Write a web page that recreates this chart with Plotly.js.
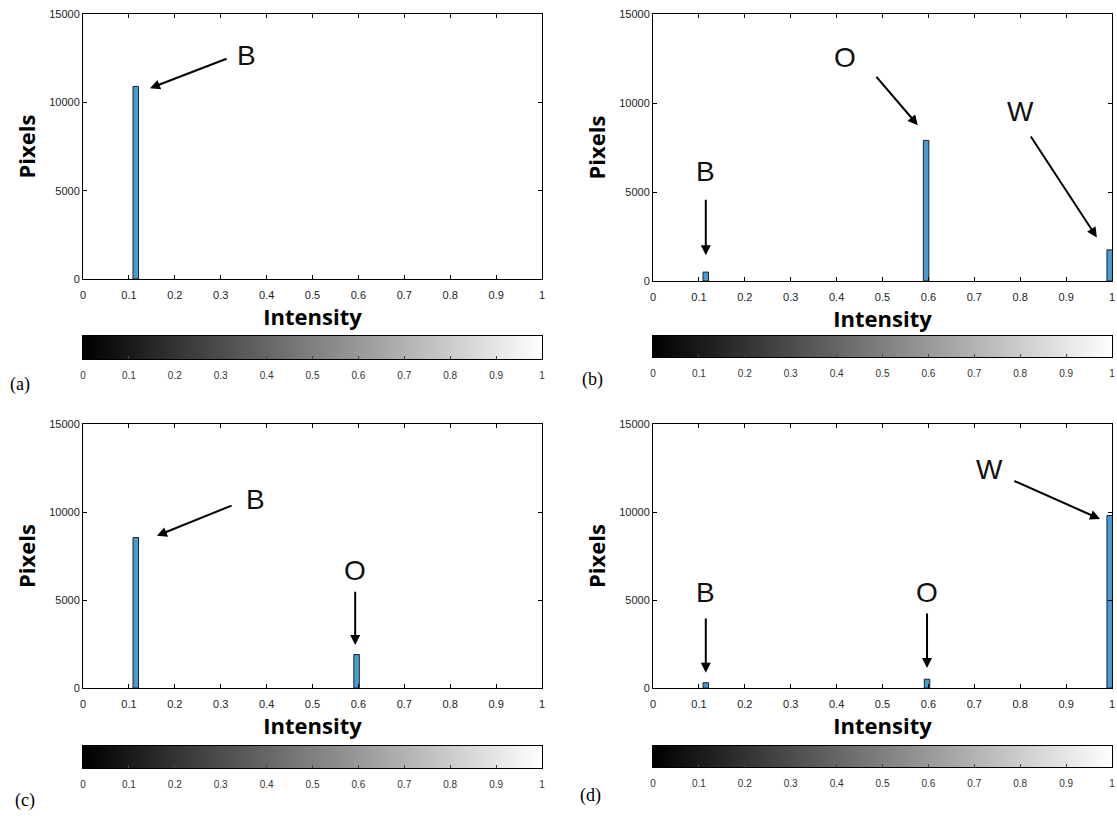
<!DOCTYPE html>
<html>
<head>
<meta charset="utf-8">
<script src="https://cdn.plot.ly/plotly-3.0.1.min.js"></script>
<style>html,body{margin:0;padding:0;background:#fff;}#chart{width:1117px;height:821px;}</style>
</head>
<body>
<div id="chart"></div>
<script>
// ---- data ----
const intensityA = [0.115];
const countsA = [10900];
const intensityB = [0.115, 0.595, 0.995];
const countsB = [500, 7900, 1750];
const intensityC = [0.115, 0.596];
const countsC = [8550, 1900];
const intensityD = [0.115, 0.597, 0.995];
const countsD = [300, 500, 9800];

const xTickVals = [0, 0.1, 0.2, 0.3, 0.4, 0.5, 0.6, 0.7, 0.8, 0.9, 1];
const xTickText = ['0', '0.1', '0.2', '0.3', '0.4', '0.5', '0.6', '0.7', '0.8', '0.9', '1'];
const yTickVals = [0, 5000, 10000, 15000];
const yTickText = ['0', '5000', '10000', '15000'];
const grayLevels = [0, 1];
const panelLabels = ['(a)', '(b)', '(c)', '(d)'];
const xTitle = 'Intensity';
const yTitle = 'Pixels';

// annotation labels: [panel, text, textX, textY, tailX, tailY, headX, headY]
const arrowLabels = [
  [0, 'B', 0.357, 12650, 0.316, 12500, 0.146, 10800],
  [1, 'B', 0.115, 6150, 0.115, 4650, 0.115, 1450],
  [1, 'O', 0.418, 12550, 0.484, 11550, 0.577, 8750],
  [1, 'W', 0.800, 9500, 0.821, 8200, 0.967, 2450],
  [2, 'B', 0.375, 10700, 0.327, 10400, 0.161, 8650],
  [2, 'O', 0.593, 6700, 0.593, 5550, 0.593, 2450],
  [3, 'B', 0.115, 5450, 0.115, 4030, 0.115, 860],
  [3, 'O', 0.597, 5450, 0.597, 4320, 0.597, 1140],
  [3, 'W', 0.734, 12400, 0.784, 11800, 0.974, 9600]
];

// ---- layout geometry ----
const W = 1117, H = 821;
const px = v => v / W;
const py = v => 1 - v / H;
const panels = [
  {x0: 83, x1: 542, y0: 14, y1: 279, cb0: 336, cb1: 359, lab: [20, 384]},
  {x0: 653, x1: 1112, y0: 14, y1: 281, cb0: 336, cb1: 357, lab: [592, 380]},
  {x0: 83, x1: 542, y0: 424, y1: 688, cb0: 746, cb1: 768, lab: [25, 800]},
  {x0: 653, x1: 1112, y0: 424, y1: 688, cb0: 746, cb1: 767, lab: [590, 795]}
];
const series = [[intensityA, countsA], [intensityB, countsB], [intensityC, countsC], [intensityD, countsD]];

const tickFont = {family: 'Liberation Sans, Arial, sans-serif', size: 11, color: '#222'};
const yTickFont = {family: 'Liberation Sans, Arial, sans-serif', size: 11, color: '#222'};
const cbTickFont = {family: 'Liberation Sans, Arial, sans-serif', size: 10, color: '#333'};
const titleFont = {family: 'Open Sans, sans-serif', size: 22, color: '#000', weight: 'bold'};

const data = [];
const layout = {
  width: W, height: H,
  margin: {l: 0, r: 0, t: 0, b: 0},
  paper_bgcolor: '#fff', plot_bgcolor: '#fff',
  showlegend: false,
  annotations: [],
  bargap: 0
};

panels.forEach((p, i) => {
  const n = i + 1;
  const xa = 'xaxis' + (n === 1 ? '' : n);
  const ya = 'yaxis' + (n === 1 ? '' : n);
  const xr = 'x' + (n === 1 ? '' : n);
  const yr = 'y' + (n === 1 ? '' : n);
  data.push({
    type: 'bar', x: series[i][0], y: series[i][1], width: 0.012,
    xaxis: xr, yaxis: yr,
    marker: {color: '#4a9bd1', line: {color: '#1a2530', width: 1}},
    hoverinfo: 'x+y'
  });
  layout[xa] = {
    domain: [px(p.x0), px(p.x1)], anchor: yr, range: [0, 1],
    tickvals: xTickVals, ticktext: xTickText, ticks: 'inside', ticklen: 4,
    tickcolor: '#000', showline: true, linecolor: '#000', linewidth: 1, mirror: 'ticks',
    showgrid: false, zeroline: false, tickfont: tickFont, ticklabelstandoff: 6,
    title: {text: xTitle, font: titleFont, standoff: 6}
  };
  layout[ya] = {
    domain: [py(p.y1), py(p.y0)], anchor: xr, range: [0, 15000],
    tickvals: yTickVals, ticktext: yTickText, ticks: 'inside', ticklen: 4,
    tickcolor: '#000', showline: true, linecolor: '#000', linewidth: 1, mirror: 'ticks',
    showgrid: false, zeroline: false, tickfont: yTickFont,
    title: {text: yTitle, font: titleFont, standoff: 7}
  };

  // gradient colour bar below each histogram
  const m = n + 4;
  data.push({
    type: 'heatmap', x: grayLevels, y: [0], z: [grayLevels], zsmooth: 'best',
    xaxis: 'x' + m, yaxis: 'y' + m, showscale: false,
    colorscale: [[0, '#000'], [1, '#fff']], zmin: 0, zmax: 1, hoverinfo: 'skip'
  });
  layout['xaxis' + m] = {
    domain: [px(p.x0), px(p.x1)], anchor: 'y' + m, range: [0, 1],
    tickvals: xTickVals, ticktext: xTickText, ticks: 'inside', ticklen: 3,
    tickcolor: '#444', showline: true, linecolor: '#000', linewidth: 1, mirror: true,
    showgrid: false, zeroline: false, tickfont: cbTickFont, ticklabelstandoff: 7
  };
  layout['yaxis' + m] = {
    domain: [py(p.cb1), py(p.cb0)], anchor: 'x' + m, range: [-0.5, 0.5],
    showticklabels: false, ticks: '', showline: true, linecolor: '#000', linewidth: 1, mirror: true,
    showgrid: false, zeroline: false
  };

  layout.annotations.push({
    xref: 'paper', yref: 'paper', x: px(p.lab[0]), y: py(p.lab[1]),
    xanchor: 'center', yanchor: 'middle', showarrow: false, text: panelLabels[i],
    font: {family: 'Liberation Serif, Times New Roman, serif', size: 18, color: '#000'}
  });
});

arrowLabels.forEach(a => {
  const n = a[0] + 1;
  const xr = 'x' + (n === 1 ? '' : n);
  const yr = 'y' + (n === 1 ? '' : n);
  layout.annotations.push({
    xref: xr, yref: yr, x: a[2], y: a[3], text: a[1], showarrow: false,
    xanchor: 'center', yanchor: 'middle',
    font: {family: 'Liberation Sans, Arial, sans-serif', size: 28, color: '#111'}
  });
  layout.annotations.push({
    xref: xr, yref: yr, x: a[6], y: a[7], axref: xr, ayref: yr, ax: a[4], ay: a[5],
    text: '', showarrow: true, arrowhead: 2, arrowsize: 1, arrowwidth: 2, arrowcolor: '#000'
  });
});

Plotly.newPlot('chart', data, layout, {displayModeBar: false, staticPlot: true});
</script>
</body>
</html>
